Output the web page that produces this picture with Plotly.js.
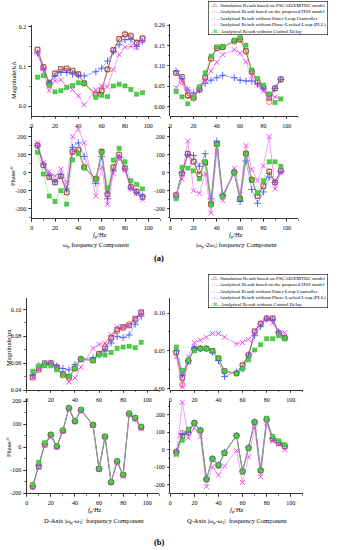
<!DOCTYPE html>
<html><head><meta charset="utf-8">
<script src="https://cdn.plot.ly/plotly-3.0.1.min.js"></script>
<style>html,body{margin:0;padding:0;background:#fff}#chart{width:346px;height:550px}</style>
</head><body><div id="chart"></div>
<script>
// ---------- data ----------
const freq = [5,10,15,20,25,30,35,40,45,55,60,65,70,75,80,85,90,95];
const seriesNames = [
  "Simulation Result based on PSCAD/EMTDC model",
  "Analytical Result based on the proposed HSS model",
  "Analytical Result without Outer-Loop Controller",
  "Analytical Result without Phase-Locked Loop (PLL)",
  "Analytical Result without Control Delay"
];
const legendSymbols = ["\u2013\u25A1\u2013","\u2013\u25CB\u2013","\u2013+\u2013","\u2013\u00D7\u2013","\u2013\u22A0\u2013"];

// (a) magnitude, omega_p component (kA)
const aMagL_sim   = [0.143,0.099,0.058,0.083,0.094,0.095,0.090,0.081,0.058,0.030,0.040,0.093,0.142,0.170,0.181,0.177,0.160,0.171];
const aMagL_hss   = [0.142,0.098,0.057,0.082,0.093,0.094,0.088,0.080,0.057,0.028,0.038,0.092,0.141,0.169,0.182,0.178,0.161,0.172];
const aMagL_nool  = [0.134,0.092,0.059,0.076,0.085,0.085,0.081,0.078,0.076,0.087,0.096,0.114,0.138,0.155,0.168,0.168,0.151,0.164];
const aMagL_nopll = [0.134,0.094,0.039,0.064,0.066,0.049,0.042,0.026,0.003,0.041,0.051,0.049,0.092,0.130,0.149,0.151,0.148,0.164];
const aMagL_nodel = [0.073,0.077,0.052,0.036,0.039,0.047,0.052,0.059,0.058,0.022,0.027,0.024,0.051,0.055,0.051,0.042,0.030,0.034];
// (a) magnitude, |omega_p-2omega_1| component (kA)
const aMagR_sim   = [0.083,0.073,0.028,0.022,0.042,0.072,0.118,0.144,0.146,0.162,0.166,0.137,0.086,0.061,0.047,0.022,0.045,0.067];
const aMagR_hss   = [0.083,0.061,0.026,0.020,0.042,0.070,0.118,0.143,0.146,0.160,0.164,0.135,0.086,0.061,0.047,0.012,0.045,0.067];
const aMagR_nool  = [0.087,0.069,0.041,0.033,0.041,0.057,0.065,0.071,0.077,0.071,0.065,0.063,0.063,0.055,0.045,0.029,0.045,0.067];
const aMagR_nopll = [0.047,0.063,0.042,0.030,0.041,0.065,0.088,0.109,0.128,0.140,0.131,0.110,0.075,0.053,0.038,0.026,0.024,0.019];
const aMagR_nodel = [0.037,0.024,0.007,0.024,0.049,0.083,0.124,0.147,0.147,0.163,0.170,0.151,0.090,0.069,0.053,0.031,0.010,0.019];
// (a) phase (deg)
const aPhL_sim   = [150,40,-25,-55,-20,-110,115,125,30,-35,115,-120,30,100,25,-80,-105,-135];
const aPhL_hss   = [152,42,-22,-52,-18,-108,118,128,32,-33,118,-118,28,100,25,-78,-103,-133];
const aPhL_nool  = [150,45,-15,-50,-10,-90,140,165,90,-60,90,-145,10,85,20,-85,-110,-130];
const aPhL_nopll = [165,55,5,-20,20,-55,200,240,165,-130,30,-175,-5,90,15,-90,-115,-150];
const aPhL_nodel = [113,-8,-130,-160,-100,-175,70,105,25,-40,115,-85,70,135,60,-45,-65,-90];
const aPhR_sim   = [-125,-5,105,60,-10,55,-175,160,-130,0,-145,105,-40,-130,-75,5,-55,10];
const aPhR_hss   = [-123,-3,103,62,-8,57,-170,158,-128,2,-143,107,-38,-128,-73,7,-53,12];
const aPhR_nool  = [-130,0,100,95,35,105,-145,175,-125,0,-160,65,-93,-170,-107,-25,-55,5];
const aPhR_nopll = [-130,-35,175,-100,-115,-5,-225,120,-155,25,-120,150,18,-45,37,200,-90,5];
const aPhR_nodel = [-145,30,25,10,-35,60,-180,155,-135,0,-145,105,-40,-110,-45,60,60,35];
// (b) magnitude (pu)
const bMagL_sim   = [0.050,0.056,0.060,0.060,0.057,0.052,0.050,0.056,0.063,0.062,0.067,0.071,0.079,0.085,0.087,0.088,0.093,0.098];
const bMagL_hss   = [0.049,0.055,0.059,0.060,0.057,0.051,0.049,0.056,0.063,0.062,0.067,0.072,0.078,0.084,0.086,0.089,0.092,0.097];
const bMagL_nool  = [0.051,0.058,0.059,0.060,0.058,0.056,0.055,0.059,0.063,0.064,0.066,0.069,0.075,0.080,0.079,0.081,0.089,0.095];
const bMagL_nopll = [0.049,0.055,0.058,0.060,0.056,0.052,0.046,0.049,0.057,0.071,0.074,0.075,0.081,0.087,0.087,0.088,0.094,0.098];
const bMagL_nodel = [0.054,0.058,0.058,0.058,0.055,0.051,0.050,0.056,0.063,0.062,0.066,0.066,0.068,0.071,0.072,0.0725,0.0715,0.0755];
const bMagR_sim   = [0.048,0.014,0.036,0.053,0.053,0.053,0.050,0.040,0.023,0.020,0.031,0.044,0.076,0.086,0.093,0.093,0.073,0.067];
const bMagR_hss   = [0.048,0.005,0.036,0.052,0.053,0.053,0.050,0.040,0.023,0.020,0.031,0.045,0.075,0.086,0.093,0.093,0.074,0.067];
const bMagR_nool  = [0.050,0.018,0.037,0.054,0.053,0.053,0.048,0.037,0.016,0.022,0.026,0.044,0.070,0.082,0.092,0.091,0.075,0.067];
const bMagR_nopll = [0.042,0.002,0.042,0.061,0.064,0.068,0.073,0.073,0.068,0.059,0.061,0.065,0.075,0.086,0.093,0.087,0.073,0.074];
const bMagR_nodel = [0.055,0.024,0.038,0.050,0.053,0.053,0.050,0.040,0.023,0.020,0.026,0.038,0.051,0.058,0.066,0.066,0.070,0.066];
// (b) phase (deg)
const bPhL_sim   = [-171,-85,12,54,3,72,170,113,162,97,-94,46,-152,-62,-120,145,126,87];
const bPhL_hss   = [-171,-80,12,52,3,72,170,113,162,97,-94,46,-152,-62,-120,145,126,87];
const bPhL_nool  = [-168,-78,14,54,4,73,170,114,162,97,-94,46,-151,-61,-120,146,127,88];
const bPhL_nopll = [-170,-78,10,48,2,70,168,111,160,96,-95,45,-153,-64,-125,142,122,80];
const bPhL_nodel = [-162,-65,20,57,6,75,172,115,165,97,-92,48,-150,-58,-118,150,130,90];
const bPhR_sim   = [-15,80,100,154,111,-170,-52,-90,-19,81,-125,10,158,-119,173,62,38,19];
const bPhR_hss   = [-10,96,100,154,111,-170,-52,-90,-19,81,-125,10,158,-119,173,62,38,19];
const bPhR_nool  = [-12,90,100,154,112,-168,-50,-88,-15,82,-122,12,160,-117,175,65,40,22];
const bPhR_nopll = [-30,273,67,125,77,-212,-98,-145,-94,-4,-188,-42,125,-154,154,48,33,0];
const bPhR_nodel = [-25,54,119,154,111,-170,-52,-88,-19,81,-125,10,160,-119,181,77,52,29];

// tick labels
const xTickVals = [0,20,40,60,80,100];
const xTickText = ["0","20","40","60","80","100"];
const phTickVals = [-200,-100,0,100,200];
const phTickText = ["-200","-100","0","100","200"];
const aMagLTickVals = [0,0.1,0.2];           const aMagLTickText = ["0.0","0.1","0.2"];
const aMagRTickVals = [0,0.05,0.1,0.15,0.2]; const aMagRTickText = ["0.00","0.05","0.10","0.15","0.20"];
const bMagLTickVals = [0.04,0.06,0.08,0.10]; const bMagLTickText = ["0.04","0.06","0.08","0.10"];
const bMagRTickVals = [0,0.05,0.1];          const bMagRTickText = ["0.00","0.05","0.10"];

// ---------- styles ----------
const W = 346, H = 550;
const FONT = "Liberation Serif, Times New Roman, serif";
const styles = [
  {color:"#222222", symbol:"square-open", size:4.5, lw:0.7},
  {color:"rgb(245,60,40)", symbol:"circle-open", size:5.5, lw:0.7},
  {color:"rgb(70,90,245)", symbol:"cross-thin-open", size:5, lw:0.9},
  {color:"rgb(240,60,240)", symbol:"x-thin-open", size:5, lw:0.9},
  {color:"rgb(90,240,80)", symbol:"square-x", size:4, lw:0.5, edge:"rgb(30,150,30)"}
];
const legendColors = ["#111111","rgb(245,50,30)","rgb(60,80,245)","rgb(240,50,240)","rgb(30,190,30)"];

// panel geometry in pixels: [x0,x1], [ytop,ybottom]
const panels = [
  {px:[31.7,160], py:[25,116], xr:[0,110], yr:[-0.025,0.205], tv:aMagLTickVals, tt:aMagLTickText, ym:0.05,
   data:[aMagL_sim,aMagL_hss,aMagL_nool,aMagL_nopll,aMagL_nodel]},
  {px:[170.3,298.3], py:[24,116], xr:[0,110], yr:[-0.023,0.203], tv:aMagRTickVals, tt:aMagRTickText, ym:0.025,
   data:[aMagR_sim,aMagR_hss,aMagR_nool,aMagR_nopll,aMagR_nodel]},
  {px:[31.7,160], py:[127,218.3], xr:[0,110], yr:[-253,253], tv:phTickVals, tt:phTickText, ym:50,
   data:[aPhL_sim,aPhL_hss,aPhL_nool,aPhL_nopll,aPhL_nodel]},
  {px:[170.3,298.3], py:[127,218.3], xr:[0,110], yr:[-253,253], tv:phTickVals, tt:phTickText, ym:50,
   data:[aPhR_sim,aPhR_hss,aPhR_nool,aPhR_nopll,aPhR_nodel]},
  {px:[26.7,159.3], py:[298,390], xr:[0,110], yr:[0.04,0.1085], tv:bMagLTickVals, tt:bMagLTickText, ym:0.01,
   data:[bMagL_sim,bMagL_hss,bMagL_nool,bMagL_nopll,bMagL_nodel]},
  {px:[170.3,302.8], py:[298,390], xr:[0,110], yr:[-0.002,0.12], tv:bMagRTickVals, tt:bMagRTickText, ym:0.025,
   data:[bMagR_sim,bMagR_hss,bMagR_nool,bMagR_nopll,bMagR_nodel]},
  {px:[26.7,159.3], py:[399,493.3], xr:[0,110], yr:[-200,210], tv:phTickVals, tt:phTickText, ym:50,
   data:[bPhL_sim,bPhL_hss,bPhL_nool,bPhL_nopll,bPhL_nodel]},
  {px:[170.3,302.8], py:[401,493.3], xr:[0,110], yr:[-250,280], tv:phTickVals, tt:phTickText, ym:50,
   data:[bPhR_sim,bPhR_hss,bPhR_nool,bPhR_nopll,bPhR_nodel]}
];

const traces = [];
const layout = {
  width: W, height: H, margin:{l:0,r:0,t:0,b:0},
  paper_bgcolor:"#fff", plot_bgcolor:"rgba(0,0,0,0)",
  showlegend:false, font:{family:FONT, size:6, color:"#000"},
  annotations:[]
};

panels.forEach((p, i) => {
  const n = i === 0 ? "" : String(i+1);
  const xa = "xaxis"+n, ya = "yaxis"+n;
  const common = {
    showline:true, linecolor:"#000", linewidth:0.8, mirror:false,
    ticks:"outside", ticklen:2.5, tickwidth:0.6, tickcolor:"#000",
    showgrid:false, zeroline:false, fixedrange:true,
    tickfont:{family:FONT, size:6, color:"#000"}
  };
  layout[xa] = Object.assign({}, common, {
    domain:[p.px[0]/W, p.px[1]/W], range:p.xr, anchor:"y"+n,
    tickmode:"array", tickvals:xTickVals, ticktext:xTickText, ticklabelstandoff:1,
    minor:{ticks:"outside", ticklen:1.5, tickwidth:0.5, tickcolor:"#000", dtick:10, showgrid:false}
  });
  layout[ya] = Object.assign({}, common, {
    domain:[1-p.py[1]/H, 1-p.py[0]/H], range:p.yr, anchor:"x"+n,
    tickmode:"array", tickvals:p.tv, ticktext:p.tt, ticklabelstandoff:1,
    minor:{ticks:"outside", ticklen:1.5, tickwidth:0.5, tickcolor:"#000", dtick:p.ym, showgrid:false}
  });
  p.data.forEach((arr, s) => {
    const st = styles[s];
    traces.push({
      x:freq, y:arr, xaxis:"x"+n, yaxis:"y"+n, type:"scatter", mode:"lines+markers",
      name:seriesNames[s], cliponaxis:false, hoverinfo:"skip",
      line:{color:st.color, width:0.5},
      marker:{symbol:st.symbol, size:st.size, color:st.color,
              line:{color: st.edge || st.color, width:st.lw}}
    });
  });
});

function ann(text, xpx, ypx, opts) {
  layout.annotations.push(Object.assign({
    text:text, x:xpx/W, y:1-ypx/H, xref:"paper", yref:"paper",
    showarrow:false, xanchor:"center", yanchor:"middle",
    font:{family:FONT, size:6.5, color:"#000"}
  }, opts||{}));
}

// y-axis titles
ann("Magnitude/kA", 13, 80, {textangle:-90});
ann("Phase/\u00B0", 12, 176, {textangle:-90});
ann("Magnitude/pu", 8, 348, {textangle:-90});
ann("Phase/\u00B0", 8, 447, {textangle:-90});
// x-axis titles
const fp = "<i>f</i><sub>p</sub>/Hz";
ann(fp, 100, 234.5);
ann(fp, 236, 234.5);
ann("\u03C9<sub>p</sub> frequency Component", 96, 244.5);
ann("|\u03C9<sub>p</sub>-2\u03C9<sub>1</sub>| frequency Component", 236, 244.5);
ann(fp, 95, 509.5);
ann(fp, 237, 509.5);
ann("D-Axis |\u03C9<sub>p</sub>-\u03C9<sub>1</sub>|  frequency Component", 94, 520.5);
ann("Q-Axis |\u03C9<sub>p</sub>-\u03C9<sub>1</sub>|  frequency Component", 237, 520.5);
// panel labels
ann("<b>(a)</b>", 159, 257.5, {font:{family:FONT, size:8.5, color:"#000"}});
ann("<b>(b)</b>", 159, 542, {font:{family:FONT, size:8.5, color:"#000"}});

// legends
const legendText = seriesNames.map((nm, s) =>
  '<span style="color:'+legendColors[s]+'">'+legendSymbols[s]+'</span> '+nm).join("<br>");
[1, 274].forEach(ytop => {
  ann(legendText, 208, ytop, {xanchor:"left", yanchor:"top", align:"left",
    bordercolor:"#000", borderwidth:0.6, borderpad:1, bgcolor:"#fff",
    font:{family:FONT, size:5, color:"#000"}});
});

Plotly.newPlot("chart", traces, layout, {staticPlot:true, displayModeBar:false});
</script></body></html>
